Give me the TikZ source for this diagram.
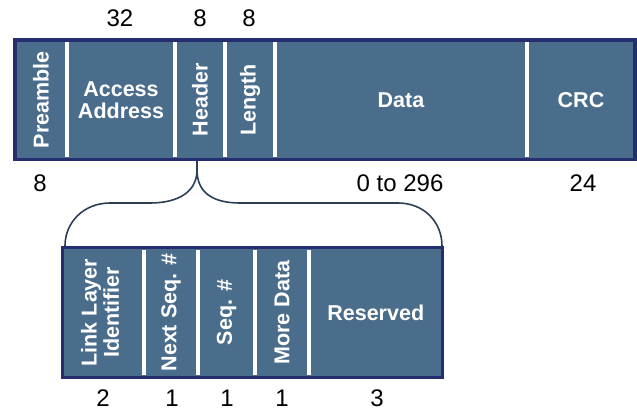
\documentclass[tikz,border=0pt]{standalone}
\usepackage{fontspec}
\setmainfont{Liberation Sans}
\usetikzlibrary{calc}
\definecolor{fieldfill}{HTML}{4B6D8C}
\definecolor{barborder}{HTML}{252E6E}
\definecolor{bracecol}{HTML}{2C3E55}
\begin{document}
\begin{tikzpicture}[x=1pt,y=-1pt,
  field/.style={rectangle,fill=fieldfill,inner sep=0pt,outer sep=0pt,
    text=white,font=\bfseries\fontsize{21.5}{22}\selectfont,align=center},
  topfield/.style={field,minimum height=119.5pt},
  lowfield/.style={field,minimum height=130pt},
  sep/.style={white,line width=3.5pt},
  border/.style={barborder,line width=3.5pt},
  bits/.style={font=\fontsize{24}{26}\selectfont,text=black,inner sep=0pt},
  brace/.style={bracecol,line width=1.6pt}]
\useasboundingbox (0,0) rectangle (637,412);

% packet fields
\node[topfield,minimum width=52pt]  (pre) at (41,99.75)  {\rotatebox{90}{Preamble}};
\node[topfield,minimum width=108pt] (acc) at (121,99.75) {Access\\Address};
\node[topfield,minimum width=50pt]  (hdr) at (200,99.75) {\rotatebox{90}{Header}};
\node[topfield,minimum width=50pt]  (len) at (250,99.75) {\rotatebox{90}{Length}};
\node[topfield,minimum width=252pt] (dat) at (401,99.75) {Data};
\node[topfield,minimum width=108pt] (crc) at (581,99.75) {CRC};

\foreach \a/\b in {pre/acc,acc/hdr,hdr/len,len/dat,dat/crc}
  \draw[sep] ($(\a.north east)+(0,2.5)$) -- ($(\a.south east)+(0,-2.5)$);
\draw[border] (pre.north west) rectangle (crc.south east);

% header fields
\node[lowfield,minimum width=81.5pt] (lli) at (103.25,312.5)
  {\rotatebox{90}{\begin{tabular}{@{}c@{}}Link Layer\\Identifier\end{tabular}}};
\node[lowfield,minimum width=54pt] (nsq) at (171,312.5) {\rotatebox{90}{Next Seq. \#}};
\node[lowfield,minimum width=57pt] (sqn) at (226.5,312.5) {\rotatebox{90}{Seq. \#}};
\node[lowfield,minimum width=54pt] (mdt) at (282,312.5) {\rotatebox{90}{More Data}};
\node[lowfield,minimum width=133.5pt] (rsv) at (375.75,312.5) {Reserved};

\foreach \a in {lli,nsq,sqn,mdt}
  \draw[sep] ($(\a.north east)+(0,2.5)$) -- ($(\a.south east)+(0,-2.5)$);
\draw[border] (lli.north west) rectangle (rsv.south east);

% brace from the header down to the header fields
\coordinate (bl) at ($(lli.north west)+(2.5,-1.5)$);
\coordinate (br) at ($(rsv.north east)+(-0.5,-1.5)$);
\draw[brace] ($(hdr.south)+(-3,1.5)$) -- ++(0,9)
  .. controls +(0,22) and +(28,0) .. (150,203) -- (110,203)
  .. controls +(-26,0) and +(0,-24) .. (bl);
\draw[brace] ($(hdr.south)+(-3,1.5)$) -- ++(0,9)
  .. controls +(0,22) and +(-28,0) .. (240,203) -- (398,203)
  .. controls +(26,0) and +(0,-24) .. (br);

% bit counts
\node[bits] (n32) at (120,18.5) {32};
\node[bits] (nh)  at (200,18.5) {8};
\node[bits] (nl)  at (249,18.5) {8};
\node[bits] (np)  at (40,183.5) {8};
\node[bits] (nd)  at (400,183.5) {0 to 296};
\node[bits] (nc)  at (583,183.5) {24};
\node[bits] (b2)  at (103,398) {2};
\node[bits] (b1a) at (172,398) {1};
\node[bits] (b1b) at (227,398) {1};
\node[bits] (b1c) at (282,398) {1};
\node[bits] (b3)  at (377,398) {3};
\end{tikzpicture}
\end{document}
